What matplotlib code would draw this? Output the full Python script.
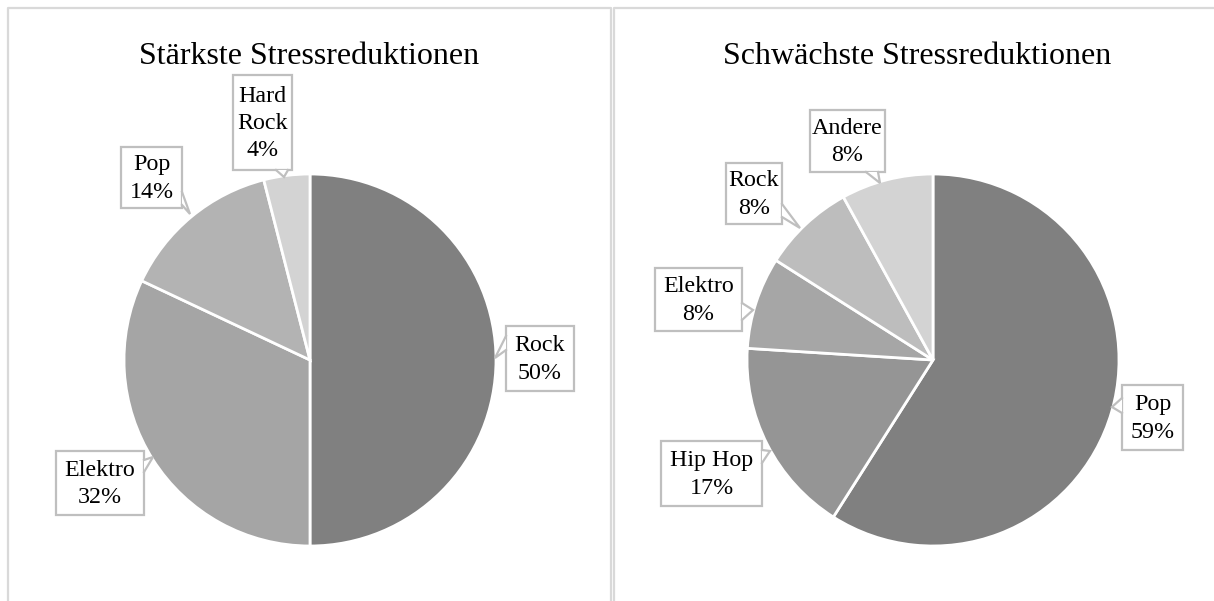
import matplotlib
matplotlib.use("Agg")
import matplotlib.pyplot as plt
from matplotlib.patches import Rectangle, Polygon

# Data
left_title = "Stärkste Stressreduktionen"
left_labels = ["Rock", "Elektro", "Pop", "Hard\nRock"]
left_values = [50, 32, 14, 4]
left_colors = ["#808080", "#a5a5a5", "#b3b3b3", "#d3d3d3"]

right_title = "Schwächste Stressreduktionen"
right_labels = ["Pop", "Hip Hop", "Elektro", "Rock", "Andere"]
right_values = [59, 17, 8, 8, 8]
right_colors = ["#808080", "#959595", "#a6a6a6", "#bdbdbd", "#d3d3d3"]

W, H = 1214, 601
fig = plt.figure(figsize=(W / 100, H / 100), dpi=100)
ax = fig.add_axes([0, 0, 1, 1])

SERIF = ["Liberation Serif", "DejaVu Serif"]
BORDER = "#d9d9d9"
CALLOUT_EDGE = "#bfbfbf"


def Y(y):
    """Convert a top-down pixel row into axes y."""
    return H - y


def draw_pie(values, colors, center, radius):
    ax.pie(values, colors=colors, startangle=90, counterclock=False,
           center=(center[0], Y(center[1])), radius=radius,
           wedgeprops=dict(edgecolor="white", linewidth=2.0))


def callout(text, box, side, base, tip):
    x0, y0, x1, y1 = box
    ax.add_patch(Rectangle((x0, Y(y1)), x1 - x0, y1 - y0, facecolor="white",
                           edgecolor=CALLOUT_EDGE, linewidth=1.6, zorder=5))
    a, b = base
    if side == "left":
        p, q = (x0, a), (x0, b)
    elif side == "right":
        p, q = (x1, a), (x1, b)
    elif side == "bottom":
        p, q = (a, y1), (b, y1)
    else:
        p, q = (a, y0), (b, y0)
    tri = [(p[0], Y(p[1])), (tip[0], Y(tip[1])), (q[0], Y(q[1]))]
    ax.add_patch(Polygon(tri, closed=True, facecolor="white", edgecolor="none",
                         zorder=6))
    ax.plot([tri[0][0], tri[1][0], tri[2][0]], [tri[0][1], tri[1][1], tri[2][1]],
            color=CALLOUT_EDGE, linewidth=1.6, zorder=7, solid_joinstyle="miter")
    ax.text((x0 + x1) / 2, Y((y0 + y1) / 2 + 1), text, ha="center", va="center",
            fontsize=17.3, family=SERIF, color="black", zorder=8,
            linespacing=1.4)


# Panel frames
ax.plot([8, 8, 611, 611], [Y(H + 5), Y(8), Y(8), Y(H + 5)], color=BORDER,
        linewidth=1.6)
ax.plot([614, 614, W + 5], [Y(H + 5), Y(8), Y(8)], color=BORDER, linewidth=1.6)

# Titles
ax.text(309, Y(56), left_title, ha="center", va="center", fontsize=23,
        family=SERIF)
ax.text(917, Y(56), right_title, ha="center", va="center", fontsize=23,
        family=SERIF)

# Pies
draw_pie(left_values, left_colors, (310, 360), 186)
draw_pie(right_values, right_colors, (933, 360), 186)

# Callout labels (left)
left_callouts = [
    ((506, 326, 574, 391), "left", (336, 350), (495, 358)),
    ((56, 451, 144, 515), "right", (460, 472), (153, 457)),
    ((121, 147, 182, 208), "right", (192, 205), (190, 214)),
    ((233, 75, 292, 170), "bottom", (276, 288), (284, 177)),
]
for lab, val, (box, side, base, tip) in zip(left_labels, left_values, left_callouts):
    callout(f"{lab}\n{val}%", box, side, base, tip)

# Callout labels (right)
right_callouts = [
    ((1122, 385, 1183, 450), "left", (398, 413), (1112, 407)),
    ((661, 441, 762, 506), "right", (450, 463), (770, 451)),
    ((655, 268, 742, 331), "right", (303, 320), (753, 310)),
    ((726, 163, 782, 224), "right", (204, 217), (800, 228)),
    ((810, 110, 885, 172), "bottom", (866, 878), (880, 183)),
]
for lab, val, (box, side, base, tip) in zip(right_labels, right_values, right_callouts):
    callout(f"{lab}\n{val}%", box, side, base, tip)

ax.set_xlim(0, W)
ax.set_ylim(0, H)
ax.set_aspect("auto")
ax.axis("off")

fig.savefig("out.png", dpi=100, facecolor="white")
